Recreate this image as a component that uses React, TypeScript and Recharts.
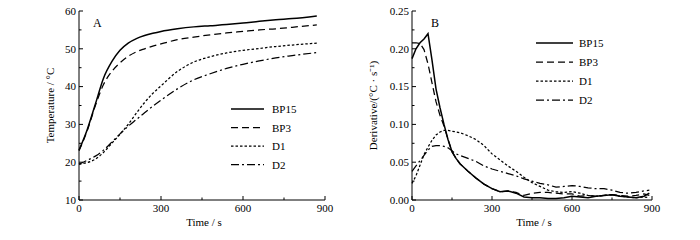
import { LineChart, Line, XAxis, YAxis, Legend } from 'recharts';

const FONT = '"Liberation Serif", "Times New Roman", serif';

const seriesNames = ['BP15', 'BP3', 'D1', 'D2'];
const seriesDash = ['', '7 4', '2.5 2', '8 3 2 3'];
const seriesWidth = [1.5, 1.25, 1.25, 1.25];

const xTicks = [0, 150, 300, 450, 600, 750, 900];

// panel A: temperature
const timeA = [0, 30, 60, 90, 120, 150, 180, 210, 240, 270, 300, 360, 420, 480, 540, 600, 660, 720, 780, 870];
const bp15A = [23.2, 28.6, 35.4, 42.3, 46.6, 49.6, 51.5, 52.7, 53.5, 54.1, 54.6, 55.3, 55.8, 56.1, 56.4, 56.8, 57.3, 57.7, 58.0, 58.7];
const bp3A = [23.0, 28.3, 35.0, 40.6, 44.0, 46.3, 48.0, 49.2, 50.0, 50.7, 51.3, 52.4, 53.1, 53.7, 54.2, 54.6, 55.0, 55.3, 55.7, 56.3];
const d1A = [19.5, 19.9, 20.8, 22.6, 25.0, 27.4, 30.0, 33.0, 35.8, 38.2, 40.2, 44.0, 46.5, 47.9, 48.9, 49.6, 50.1, 50.6, 51.0, 51.5];
const d2A = [19.5, 20.5, 21.6, 23.2, 25.3, 27.5, 29.5, 31.3, 33.1, 34.8, 36.4, 39.4, 41.8, 43.4, 44.8, 45.9, 46.8, 47.6, 48.2, 49.0];
const yTicksA = [10, 15, 20, 25, 30, 35, 40, 45, 50, 55, 60];

// panel B: derivative
const timeB = [0, 15, 30, 45, 60, 75, 90, 105, 120, 135, 150, 165, 180, 210, 240, 270, 300, 330, 360, 390, 420, 450, 480, 510, 540, 570, 600, 630, 660, 690, 720, 750, 780, 810, 840, 870, 890];
const bp15B = [0.187, 0.2, 0.208, 0.213, 0.22, 0.185, 0.147, 0.122, 0.1, 0.08, 0.064, 0.055, 0.048, 0.038, 0.029, 0.021, 0.015, 0.011, 0.012, 0.009, 0.004, 0.003, 0.003, 0.002, 0.002, 0.003, 0.005, 0.004, 0.003, 0.005, 0.006, 0.007, 0.005, 0.004, 0.003, 0.005, 0.009];
const bp3B = [0.208, 0.208, 0.207, 0.199, 0.18, 0.155, 0.13, 0.112, 0.098, 0.08, 0.064, 0.055, 0.048, 0.038, 0.029, 0.021, 0.015, 0.011, 0.012, 0.01, 0.006, 0.009, 0.01, 0.01, 0.009, 0.008, 0.008, 0.005, 0.006, 0.005, 0.006, 0.007, 0.006, 0.005, 0.006, 0.008, 0.006];
const d1B = [0.022, 0.032, 0.046, 0.06, 0.07, 0.079, 0.086, 0.09, 0.092, 0.092, 0.091, 0.09, 0.089, 0.085, 0.08, 0.072, 0.061, 0.053, 0.045, 0.038, 0.03, 0.023, 0.018, 0.013, 0.011, 0.01, 0.011, 0.009, 0.006, 0.005, 0.006, 0.007, 0.005, 0.004, 0.003, 0.004, 0.003];
const d2B = [0.038, 0.045, 0.052, 0.059, 0.066, 0.071, 0.072, 0.072, 0.071, 0.069, 0.065, 0.061, 0.059, 0.055, 0.051, 0.045, 0.041, 0.038, 0.035, 0.032, 0.028, 0.025, 0.022, 0.02, 0.017, 0.018, 0.019, 0.018, 0.016, 0.015, 0.015, 0.013, 0.01, 0.009, 0.01, 0.012, 0.013];
const yTicksB = [0, 0.025, 0.05, 0.075, 0.1, 0.125, 0.15, 0.175, 0.2, 0.225, 0.25];

const toRows = (t: number[], cols: number[][]) =>
  t.map((v, i) => {
    const row: Record<string, number> = { t: v };
    seriesNames.forEach((n, k) => (row[n] = cols[k][i]));
    return row;
  });

const dataA = toRows(timeA, [bp15A, bp3A, d1A, d2A]);
const dataB = toRows(timeB, [bp15B, bp3B, d1B, d2B]);

type Side = 'bottom' | 'top' | 'left' | 'right';

function makeTick(side: Side, isMajor: (v: number) => boolean, fmt: (v: number) => string) {
  return (p: any) => {
    const { x, y, payload } = p;
    const v = payload.value;
    const len = isMajor(v) ? 4 : 2.5;
    let line;
    if (side === 'bottom') line = <line x1={x} y1={y} x2={x} y2={y - len} />;
    else if (side === 'top') line = <line x1={x} y1={y} x2={x} y2={y + len} />;
    else if (side === 'left') line = <line x1={x} y1={y} x2={x + len} y2={y} />;
    else line = <line x1={x} y1={y} x2={x - len} y2={y} />;
    return (
      <g>
        <g stroke="#000" strokeWidth={1}>{line}</g>
        {side === 'bottom' && isMajor(v) && (
          <text x={x} y={y + 12} textAnchor="middle" fontFamily={FONT} fontSize={11} fill="#000">
            {fmt(v)}
          </text>
        )}
        {side === 'left' && isMajor(v) && (
          <text x={x - 3} y={y + 3.8} textAnchor="end" fontFamily={FONT} fontSize={11} fill="#000">
            {fmt(v)}
          </text>
        )}
      </g>
    );
  };
}

interface PanelProps {
  data: Record<string, number>[];
  letter: string;
  letterDx: number;
  yDomain: [number, number];
  yTicks: number[];
  yMajor: (v: number) => boolean;
  yFmt: (v: number) => string;
  yTitle: string;
  yTitleX: number;
  yWidth: number;
  rightMargin: number;
  curve: 'monotone' | 'linear';
  legendPos: { left: number; top: number };
  legendLine: number;
  legendGap: number;
  legendRow: number;
}

function Panel(props: PanelProps) {
  const xMajor = (v: number) => v % 300 === 0;
  const xFmt = (v: number) => String(v);
  const legendContent = (lp: any) => {
    const items = lp.payload || [];
    return (
      <svg width={120} height={props.legendRow * 4 + 4} style={{ display: 'block' }}>
        {items.map((it: any, i: number) => {
          const cy = 9 + i * props.legendRow;
          return (
            <g key={it.value}>
              <line
                x1={0}
                x2={props.legendLine}
                y1={cy}
                y2={cy}
                stroke="#000"
                strokeWidth={seriesWidth[i]}
                strokeDasharray={seriesDash[i] || undefined}
              />
              <text x={props.legendLine + props.legendGap} y={cy + 4} fontFamily={FONT} fontSize={11} fill="#000">
                {it.value}
              </text>
            </g>
          );
        })}
      </svg>
    );
  };

  return (
    <LineChart
      width={350}
      height={240}
      data={props.data}
      margin={{ top: 11, right: props.rightMargin, bottom: 0, left: 0 }}
    >
      <XAxis
        dataKey="t"
        type="number"
        domain={[0, 900]}
        ticks={xTicks}
        interval={0}
        height={40}
        tickSize={0}
        tickMargin={0}
        tickLine={false}
        axisLine={{ stroke: '#000' }}
        tick={makeTick('bottom', xMajor, xFmt)}
        label={{
          content: ({ viewBox }: any) => (
            <text
              x={viewBox.x + viewBox.width / 2 + 2}
              y={viewBox.y + 26}
              textAnchor="middle"
              fontFamily={FONT}
              fontSize={11}
              fill="#000"
            >
              Time / s
            </text>
          ),
        }}
      />
      <XAxis
        xAxisId="top"
        orientation="top"
        type="number"
        domain={[0, 900]}
        ticks={xTicks}
        interval={0}
        height={0}
        tickSize={0}
        tickMargin={0}
        tickLine={false}
        axisLine={{ stroke: '#000' }}
        tick={makeTick('top', xMajor, xFmt)}
      />
      <YAxis
        type="number"
        domain={props.yDomain}
        ticks={props.yTicks}
        interval={0}
        width={props.yWidth}
        tickSize={0}
        tickMargin={0}
        tickLine={false}
        axisLine={{ stroke: '#000' }}
        tick={makeTick('left', props.yMajor, props.yFmt)}
        label={{
          content: ({ viewBox }: any) => {
            const cx = viewBox.x + props.yTitleX;
            const cy = viewBox.y + viewBox.height / 2;
            return (
              <g>
                <text
                  x={cx}
                  y={cy}
                  transform={`rotate(-90 ${cx} ${cy})`}
                  textAnchor="middle"
                  dominantBaseline="central"
                  fontFamily={FONT}
                  fontSize={11}
                  fill="#000"
                >
                  {props.yTitle}
                </text>
                <text
                  x={viewBox.x + viewBox.width + props.letterDx}
                  y={viewBox.y + 16}
                  fontFamily={FONT}
                  fontSize={12}
                  fill="#000"
                >
                  {props.letter}
                </text>
              </g>
            );
          },
        }}
      />
      <YAxis
        yAxisId="right"
        orientation="right"
        type="number"
        domain={props.yDomain}
        ticks={props.yTicks}
        interval={0}
        width={0}
        tickSize={0}
        tickMargin={0}
        tickLine={false}
        axisLine={{ stroke: '#000' }}
        tick={makeTick('right', props.yMajor, props.yFmt)}
      />
      <Legend
        layout="vertical"
        align="center"
        verticalAlign="middle"
        content={legendContent}
        wrapperStyle={{ left: props.legendPos.left, top: props.legendPos.top, width: 120 }}
      />
      {seriesNames.map((n, i) => (
        <Line
          key={n}
          type={props.curve}
          dataKey={n}
          name={n}
          stroke="#000"
          strokeWidth={seriesWidth[i]}
          strokeDasharray={seriesDash[i] || undefined}
          dot={false}
          activeDot={false}
          isAnimationActive={false}
        />
      ))}
    </LineChart>
  );
}

export default function App() {
  return (
    <div style={{ position: 'absolute', left: 0, top: 0, width: 700, height: 240, background: '#fff' }}>
      <div style={{ position: 'absolute', left: 0, top: 0 }}>
        <Panel
          data={dataA}
          letter="A"
          letterDx={14}
          yDomain={[10, 60]}
          yTicks={yTicksA}
          yMajor={(v) => v % 10 === 0}
          yFmt={(v) => String(v)}
          yTitle="Temperature / °C"
          yTitleX={50}
          yWidth={79}
          rightMargin={25}
          curve="monotone"
          legendPos={{ left: 231, top: 100 }}
          legendLine={33}
          legendGap={8}
          legendRow={18.5}
        />
      </div>
      <div style={{ position: 'absolute', left: 350, top: 0 }}>
        <Panel
          data={dataB}
          letter="B"
          letterDx={19}
          yDomain={[0, 0.25]}
          yTicks={yTicksB}
          yMajor={(v) => Math.round(v * 1000) % 50 === 0}
          yFmt={(v) => v.toFixed(2)}
          yTitle="Derivative/(°C · s⁻¹)"
          yTitleX={23}
          yWidth={62}
          rightMargin={48}
          curve="linear"
          legendPos={{ left: 186, top: 34 }}
          legendLine={37}
          legendGap={6}
          legendRow={19}
        />
      </div>
    </div>
  );
}
